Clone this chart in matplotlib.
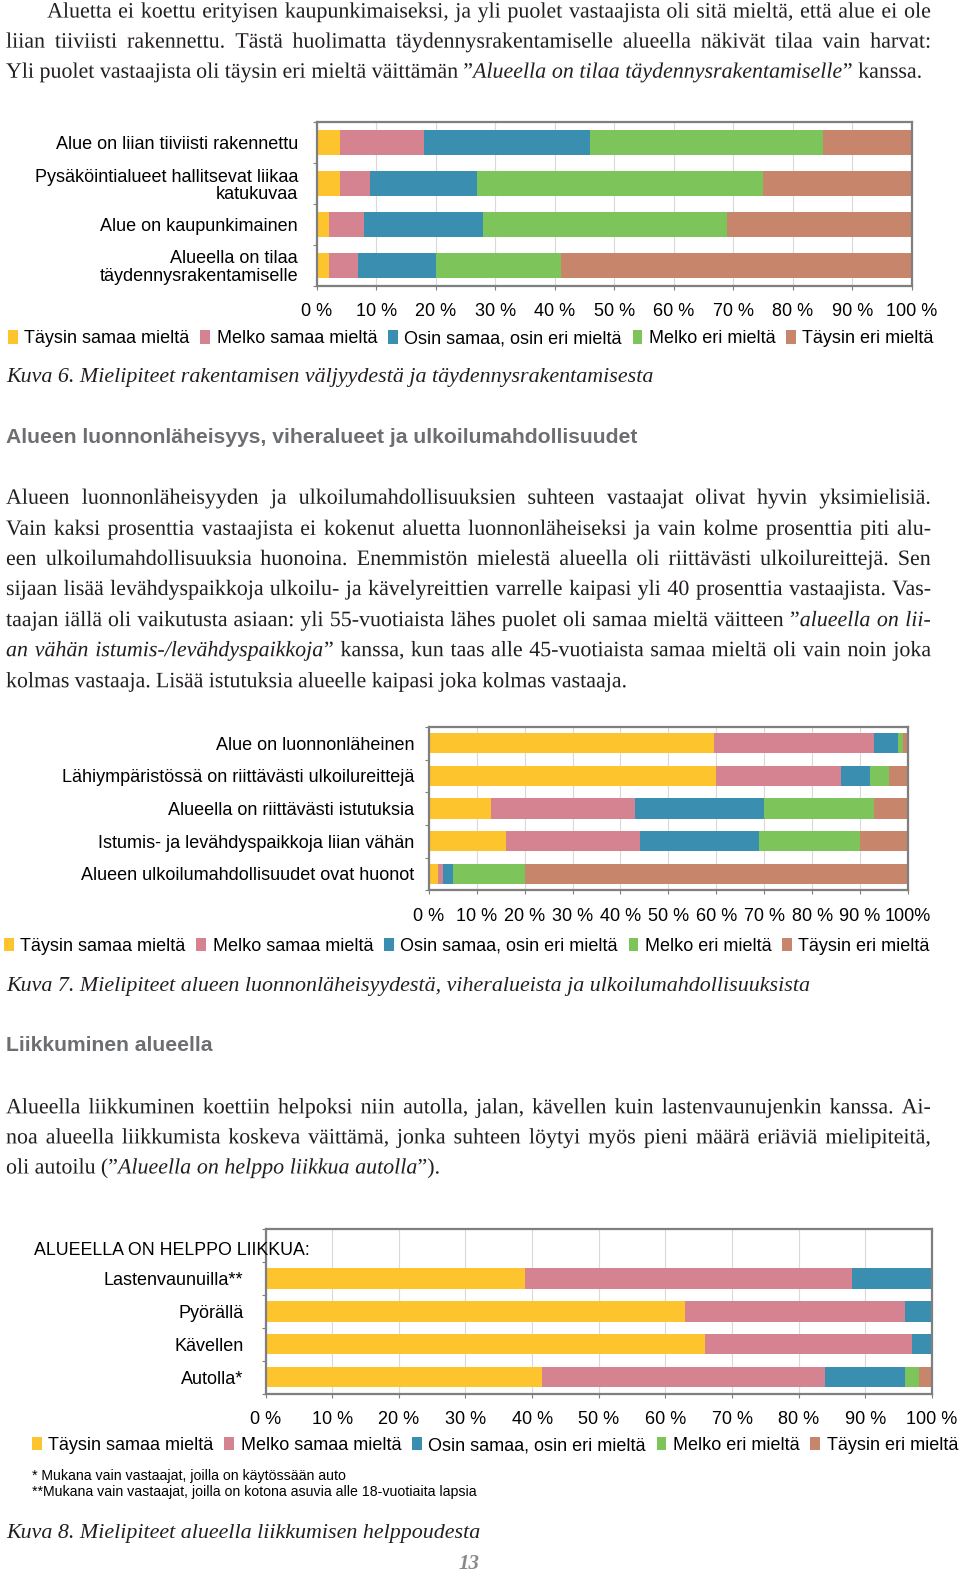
import matplotlib
matplotlib.use('Agg')
import matplotlib.pyplot as plt
import matplotlib.patheffects as pe
from matplotlib.patches import Patch
import numpy as np

plt.rcParams['font.family'] = ['Liberation Sans', 'DejaVu Sans']

W, H = 960, 1572
SX, SY = 960 / 958, 1572 / 1568   # coordinates were read on the 958x1568 preview
fig = plt.figure(figsize=(W / 100, H / 100), dpi=100)
fig.patch.set_facecolor('white')

# ---------------- data ----------------
SERIES = ['Täysin samaa mieltä', 'Melko samaa mieltä', 'Osin samaa, osin eri mieltä',
          'Melko eri mieltä', 'Täysin eri mieltä']
COLORS = ['#FDC42D', '#D58291', '#3A8FB0', '#7DC45A', '#C7856C']

# Kuva 6
c1_categories = ['Alue on liian tiiviisti rakennettu',
                 'Pysäköintialueet hallitsevat liikaa\nkatukuvaa',
                 'Alue on kaupunkimainen',
                 'Alueella on tilaa\ntäydennysrakentamiselle']
c1_taysin_samaa = [4, 4, 2, 2]
c1_melko_samaa = [14, 5, 6, 5]
c1_osin = [28, 18, 20, 13]
c1_melko_eri = [39, 48, 41, 21]
c1_taysin_eri = [15, 25, 31, 59]
c1_xticklabels = ['0 %', '10 %', '20 %', '30 %', '40 %', '50 %', '60 %', '70 %', '80 %', '90 %', '100 %']

# Kuva 7
c2_categories = ['Alue on luonnonläheinen',
                 'Lähiympäristössä on riittävästi ulkoilureittejä',
                 'Alueella on riittävästi istutuksia',
                 'Istumis- ja levähdyspaikkoja liian vähän',
                 'Alueen ulkoilumahdollisuudet ovat huonot']
c2_taysin_samaa = [59.5, 60, 13, 16, 2]
c2_melko_samaa = [33.5, 26, 30, 28, 1]
c2_osin = [5, 6, 27, 25, 2]
c2_melko_eri = [1, 4, 23, 21, 15]
c2_taysin_eri = [1, 4, 7, 10, 80]
c2_xticklabels = ['0 %', '10 %', '20 %', '30 %', '40 %', '50 %', '60 %', '70 %', '80 %', '90 %', '100%']

# Kuva 8
c3_header = 'ALUEELLA ON HELPPO LIIKKUA:'
c3_categories = ['Lastenvaunuilla**', 'Pyörällä', 'Kävellen', 'Autolla*']
c3_taysin_samaa = [39, 63, 66, 41.5]
c3_melko_samaa = [49, 33, 31, 42.5]
c3_osin = [12, 4, 3, 12]
c3_melko_eri = [0, 0, 0, 2]
c3_taysin_eri = [0, 0, 0, 2]
c3_xticklabels = c1_xticklabels

FRAME = '#7f7f7f'


def fx(x):
    return x * SX / W


def fy(y):
    return 1 - y * SY / H


def rect(l, t, r, b):
    return [fx(l), fy(b), fx(r) - fx(l), fy(t) - fy(b)]


def chart(r, cats, series_vals, xlabels, label_pad, skip_first=False):
    ax = fig.add_axes(r)
    n_slots = len(cats) + (1 if skip_first else 0)
    pos = np.arange(len(cats)) + (1 if skip_first else 0)
    left = np.zeros(len(cats))
    for vals, col in zip(series_vals, COLORS):
        v = np.array(vals, dtype=float)
        ax.barh(pos, v, left=left, height=0.62, color=col, edgecolor='none', zorder=2)
        left += v
    ax.set_xlim(0, 100)
    ax.set_ylim(n_slots - 0.5, -0.5)
    ax.set_xticks(np.arange(0, 101, 10))
    ax.set_xticklabels(xlabels, fontsize=13)
    ax.set_yticks(pos)
    ax.set_yticklabels(cats, fontsize=13)
    for lab in ax.get_yticklabels():
        lab.set_linespacing(1.05)
    ax.set_yticks(np.arange(n_slots + 1) - 0.5, minor=True)
    ax.tick_params(axis='y', which='major', length=0, pad=label_pad)
    ax.tick_params(axis='y', which='minor', length=3, color=FRAME, width=0.8)
    ax.tick_params(axis='x', which='major', length=3, color=FRAME, width=0.8, pad=9.5)
    ax.xaxis.grid(True, color='#d9d9d9', lw=0.8, zorder=0)
    ax.set_axisbelow(True)
    for s in ax.spines.values():
        s.set_color(FRAME)
        s.set_linewidth(1.6)
    return ax


def legend(x, y, colsp):
    handles = [Patch(facecolor=c, edgecolor='none') for c in COLORS]
    fig.legend(handles, SERIES, loc='center left', bbox_to_anchor=(fx(x), fy(y)),
               ncol=5, frameon=False, fontsize=13, handlelength=0.55, handleheight=0.75,
               handletextpad=0.35, columnspacing=colsp, borderpad=0, borderaxespad=0)


chart(rect(316, 122, 910, 285), c1_categories,
      [c1_taysin_samaa, c1_melko_samaa, c1_osin, c1_melko_eri, c1_taysin_eri],
      c1_xticklabels, 13.5)
legend(8, 338, 0.6)

chart(rect(428, 725, 906, 888), c2_categories,
      [c2_taysin_samaa, c2_melko_samaa, c2_osin, c2_melko_eri, c2_taysin_eri],
      c2_xticklabels, 10.5)
legend(4, 944, 0.6)

chart(rect(265, 1226, 930, 1390), c3_categories,
      [c3_taysin_samaa, c3_melko_samaa, c3_osin, c3_melko_eri, c3_taysin_eri],
      c3_xticklabels, 16, skip_first=True)
fig.text(fx(34), fy(1247), c3_header, fontsize=12.8, va='center', zorder=5)
legend(32, 1442, 0.6)

fig.text(fx(32), fy(1472), '* Mukana vain vastaajat, joilla on käytössään auto',
         fontsize=10.2, va='center')
fig.text(fx(32), fy(1488), '**Mukana vain vastaajat, joilla on kotona asuvia alle 18-vuotiaita lapsia',
         fontsize=10.2, va='center')

# ---------------- page text ----------------
SERIF = 'Liberation Serif'
TXT = '#231f20'
FS = 15.8
PE = [pe.Normal()]   # draw glyphs as paths so word baselines align exactly
renderer = fig.canvas.get_renderer()


def piece_width(s, italic, fs=FS):
    t = fig.text(0, 0, s, fontsize=fs, family=SERIF, style='italic' if italic else 'normal')
    w = t.get_window_extent(renderer).width
    t.remove()
    return w


SPACE = piece_width('a a', False) - piece_width('aa', False)


def parse(line):
    segs = line.split('|')
    words = [[]]
    for i, seg in enumerate(segs):
        it = (i % 2 == 1)
        parts = seg.split(' ')
        for j, p in enumerate(parts):
            if j > 0:
                words.append([])
            if p:
                words[-1].append((p, it))
    return [w for w in words if w]


def draw_line(line, x0, x1, ymid, justify=True):
    x0p, x1p = x0 * SX, x1 * SX
    words = parse(line)
    widths = [sum(piece_width(s, it) for s, it in w) for w in words]
    if justify and len(words) > 1:
        gap = (x1p - x0p - sum(widths)) / (len(words) - 1)
    else:
        gap = SPACE
    x = x0p
    yb = fy(ymid + 5.5)
    for w, ww in zip(words, widths):
        xx = x
        for s, it in w:
            fig.text(xx / W, yb, s, fontsize=FS, family=SERIF,
                     style='italic' if it else 'normal', color=TXT, va='baseline',
                     path_effects=PE)
            xx += piece_width(s, it)
        x += ww + gap


def paragraph(lines, ys, indent_first=0):
    for i, (ln, y) in enumerate(zip(lines, ys)):
        last = (i == len(lines) - 1)
        draw_line(ln, 6 + (indent_first if i == 0 else 0), 929, y, justify=not last)


para1 = ['Aluetta ei koettu erityisen kaupunkimaiseksi, ja yli puolet vastaajista oli sitä mieltä, että alue ei ole',
         'liian tiiviisti rakennettu. Tästä huolimatta täydennysrakentamiselle alueella näkivät tilaa vain harvat:',
         'Yli puolet vastaajista oli täysin eri mieltä väittämän ”|Alueella on tilaa täydennysrakentamiselle|” kanssa.']
paragraph(para1, [12, 42, 72], indent_first=41)

para2 = ['Alueen luonnonläheisyyden ja ulkoilumahdollisuuksien suhteen vastaajat olivat hyvin yksimielisiä.',
         'Vain kaksi prosenttia vastaajista ei kokenut aluetta luonnonläheiseksi ja vain kolme prosenttia piti alu-',
         'een ulkoilumahdollisuuksia huonoina. Enemmistön mielestä alueella oli riittävästi ulkoilureittejä. Sen',
         'sijaan lisää levähdyspaikkoja ulkoilu- ja kävelyreittien varrelle kaipasi yli 40 prosenttia vastaajista. Vas-',
         'taajan iällä oli vaikutusta asiaan: yli 55-vuotiaista lähes puolet oli samaa mieltä väitteen ”|alueella on lii-|',
         '|an vähän istumis-/levähdyspaikkoja|” kanssa, kun taas alle 45-vuotiaista samaa mieltä oli vain noin joka',
         'kolmas vastaaja. Lisää istutuksia alueelle kaipasi joka kolmas vastaaja.']
paragraph(para2, [497, 528, 558, 588, 619, 649, 680])

para3 = ['Alueella liikkuminen koettiin helpoksi niin autolla, jalan, kävellen kuin lastenvaunujenkin kanssa. Ai-',
         'noa alueella liikkumista koskeva väittämä, jonka suhteen löytyi myös pieni määrä eriäviä mielipiteitä,',
         'oli autoilu (”|Alueella on helppo liikkua autolla|”).']
paragraph(para3, [1105, 1135, 1165])

captions = [('Kuva 6. Mielipiteet rakentamisen väljyydestä ja täydennysrakentamisesta', 376),
            ('Kuva 7. Mielipiteet alueen luonnonläheisyydestä, viheralueista ja ulkoilumahdollisuuksista', 983),
            ('Kuva 8. Mielipiteet alueella liikkumisen helppoudesta', 1529)]
for txt, y in captions:
    fig.text(fx(6), fy(y + 5.5), txt, fontsize=FS, family=SERIF, style='italic',
             color=TXT, va='baseline')

headings = [('Alueen luonnonläheisyys, viheralueet ja ulkoilumahdollisuudet', 436),
            ('Liikkuminen alueella', 1043)]
for txt, y in headings:
    fig.text(fx(6), fy(y), txt, fontsize=15.2, weight='bold', color='#6d6e71', va='center')

fig.text(fx(468), fy(1560), '13', fontsize=15, family=SERIF, style='italic', weight='bold',
         color='#8a8a8a', va='center', ha='center')

fig.savefig('out.png', dpi=100)
